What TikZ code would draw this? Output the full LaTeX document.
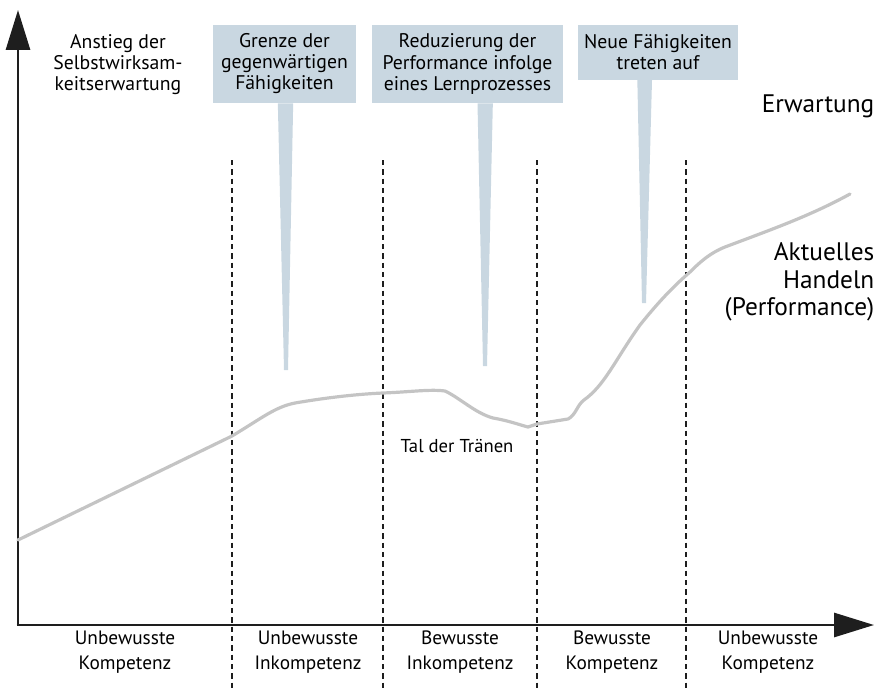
\documentclass[tikz,border=0pt]{standalone}
\usepackage{fontspec}
\setmainfont{PT Sans}
\usetikzlibrary{arrows.meta}

\definecolor{callfill}{RGB}{201,215,225}
\definecolor{curvegray}{RGB}{196,196,196}
\definecolor{axisdark}{RGB}{30,30,30}

\tikzset{
	axis/.style={line width=2.2pt, draw=axisdark, -{Triangle[length=30pt,width=18pt]}},
	phase/.style={line width=1.1pt, dash pattern=on 4pt off 3pt, draw=axisdark},
	callout/.style={fill=callfill, inner sep=0pt, align=center, font=\fontsize{14.8}{15.8}\selectfont},
	tail/.style={fill=callfill, draw=none},
	lbl/.style={align=center, font=\fontsize{14.8}{15.8}\selectfont},
	phaselbl/.style={align=center, font=\fontsize{14.5}{18.7}\selectfont},
	biglbl/.style={align=right, anchor=east, font=\fontsize{19}{20.5}\selectfont},
}

\begin{document}
\begin{tikzpicture}[x=0.75pt, y=-0.75pt]
	\useasboundingbox (0,0) rectangle (884,688);

	% phase boundaries
	\foreach \px/\nm in {232/p1, 383/p2, 537/p3, 686/p4}{
		\coordinate (\nm top) at (\px,160);
		\coordinate (\nm bot) at (\px,688);
		\draw[phase] (\nm top) -- (\nm bot);
	}

	% axes
	\coordinate (origin) at (18,625);
	\coordinate (ytip) at (18,10);
	\coordinate (xtip) at (874,625);
	\draw[axis] (origin) -- (ytip);
	\draw[axis] ([xshift=-1pt]origin) -- (xtip);

	% callouts
	\node[callout, minimum width=107pt, minimum height=58.5pt] (grenze) at (284.5,64) {Grenze der\\gegenwärtigen\\Fähigkeiten};
	\node[callout, minimum width=143pt, minimum height=58.5pt] (reduz) at (467.5,64) {Reduzierung der\\Performance infolge\\eines Lernprozesses};
	\node[callout, minimum width=120pt, minimum height=41pt] (neue) at (658,52.5) {Neue Fähigkeiten\\treten auf};
	\coordinate (grenzetip) at (286,370);
	\coordinate (reduztip) at (485,366);
	\coordinate (neuetip) at (644,303);
	\fill[tail] ([xshift=-5pt]grenze.south) -- ([xshift=6.5pt]grenze.south) -- ([xshift=1.5pt]grenzetip) -- ([xshift=-1.5pt]grenzetip) -- cycle;
	\fill[tail] ([xshift=7.5pt]reduz.south) -- ([xshift=19pt]reduz.south) -- ([xshift=1.5pt]reduztip) -- ([xshift=-1.5pt]reduztip) -- cycle;
	\fill[tail] ([xshift=-15.5pt]neue.south) -- ([xshift=-4.5pt]neue.south) -- ([xshift=1.5pt]neuetip) -- ([xshift=-1.5pt]neuetip) -- cycle;

	% performance curve
	\draw[curvegray, line width=2.4pt, line join=round, line cap=round]
		(18,540) -- (232,436) .. controls (262,418) and (275,407) .. (295,403)
		.. controls (330,397) and (360,394) .. (383,393)
		.. controls (410,392) and (430,389) .. (445,391)
		.. controls (460,398) and (475,413) .. (493,418)
		.. controls (510,421) and (520,425) .. (528,427)
		-- (537,424) -- (568,419)
		.. controls (576,415) and (577,405) .. (584,400)
		.. controls (605,385) and (615,360) .. (640,325)
		.. controls (660,300) and (675,285) .. (690,272)
		.. controls (700,262) and (710,253) .. (725,247)
		.. controls (770,230) and (810,216) .. (850,194);

	% labels
	\node[lbl] (yaxislbl) at (118,65) {Anstieg der\\Selbstwirksam-\\keitserwartung};
	\node[biglbl] (erw) at (879,106) {Erwartung};
	\node[biglbl] (perf) at (879,282) {Aktuelles\\Handeln\\(Performance)};
	\node[lbl, font=\fontsize{14}{15.8}\selectfont] (tal) at (457,446) {Tal der Tränen};

	\node[phaselbl] (ph1) at (125,652) {Unbewusste\\Kompetenz};
	\node[phaselbl] (ph2) at (308,652) {Unbewusste\\Inkompetenz};
	\node[phaselbl] (ph3) at (460,652) {Bewusste\\Inkompetenz};
	\node[phaselbl] (ph4) at (612,652) {Bewusste\\Kompetenz};
	\node[phaselbl] (ph5) at (768,652) {Unbewusste\\Kompetenz};
\end{tikzpicture}
\end{document}
